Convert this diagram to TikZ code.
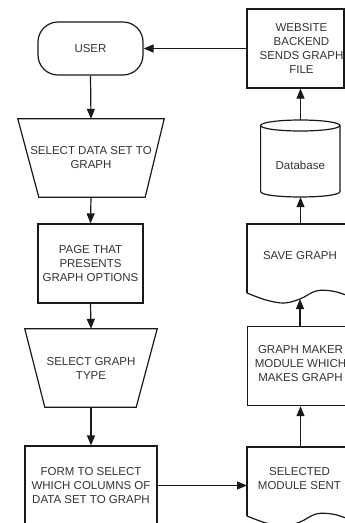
\documentclass[tikz,border=0pt]{standalone}
\usepackage{fontspec}
\setmainfont{Liberation Sans}
\usetikzlibrary{arrows.meta}
\begin{document}
\begin{tikzpicture}[x=1pt,y=-1pt,
  line/.style={draw=black!90, line width=1.2pt},
  flow/.style={line, -{Triangle[length=10pt,width=8pt]}},
  lbl/.style={align=center, font=\fontsize{11.5}{14}\selectfont, text=black!80, inner sep=0pt},
  box/.style={line, rectangle, lbl},
  ghost/.style={rectangle, lbl},
  docpic/.pic={
    \draw[line] (0,69) -- (0,0) -- (109,0) -- (109,75);
    \draw[line] plot[smooth,tension=0.6] coordinates
      {(0,69) (19,76) (37,79) (53,75) (69,67) (85,67) (99,71) (109,75)};
  }]
\useasboundingbox (0,0) rectangle (345,523);
\begin{scope}
\clip (0,0) rectangle (345,523);

% left column
\node[box, rounded corners=20pt, minimum width=105pt, minimum height=53pt] (user) at (90.5,48.5) {USER};

\node[ghost, minimum width=146pt, minimum height=78pt] (seldata) at (91,158) {SELECT DATA SET TO\\GRAPH};
\draw[line] (seldata.north west) -- (seldata.north east)
  -- ([xshift=-19pt]seldata.south east) -- ([xshift=21pt]seldata.south west) -- cycle;

\node[box, minimum width=105pt, minimum height=79pt] (page) at (90.5,263.5) {PAGE THAT\\PRESENTS\\GRAPH OPTIONS};

\node[ghost, minimum width=132pt, minimum height=78pt] (seltype) at (91,368) {SELECT GRAPH\\TYPE};
\draw[line] (seltype.north west) -- (seltype.north east)
  -- ([xshift=-21pt]seltype.south east) -- ([xshift=20pt]seltype.south west) -- cycle;

\node[box, minimum width=132pt, minimum height=79pt] (form) at (91,485.5) {FORM TO SELECT\\WHICH COLUMNS OF\\DATA SET TO GRAPH};

% right column
\node[box, minimum width=97pt, minimum height=79pt] (web) at (295.5,48.5) {};
\node[lbl] (webtxt) at (301.5,48) {WEBSITE\\BACKEND\\SENDS GRAPH\\FILE};

% database cylinder
\node[ghost, minimum width=79.4pt, minimum height=77pt] (db) at (300.3,158.5) {};
\draw[line] (260.6,125.5) -- (260.6,191.5)
  .. controls (260.6,198.8) and (340,198.8) .. (340,191.5) -- (340,125.5);
\draw[line] (300.3,125.5) ellipse [x radius=39.7, y radius=5.5];
\node[lbl] (dbtxt) at (300.3,165) {Database};

% save graph document
\node[ghost, minimum width=109pt, minimum height=75pt, anchor=north west] (save) at (247,224) {};
\pic at (247,224) {docpic};
\node[lbl] (savetxt) at (300,256) {SAVE GRAPH};
\coordinate (savewave) at (300,299);

\node[box, minimum width=108pt, minimum height=79pt, anchor=north west] (maker) at (247,326) {};
\node[lbl] (makertxt) at (300.5,364) {GRAPH MAKER\\MODULE WHICH\\MAKES GRAPH};

% selected module document
\node[ghost, minimum width=109pt, minimum height=75pt, anchor=north west] (sent) at (247,447) {};
\pic at (247,447) {docpic};
\node[lbl] (senttxt) at (299.5,479) {SELECTED\\MODULE SENT};

% connectors
\draw[flow] (web.west) -- (user.east);
\draw[flow] (user.south) -- (seldata.north);
\draw[flow] (seldata.south) -- (page.north);
\draw[flow] (page.south) -- (seltype.north);
\draw[flow] (seltype.south) -- (form.north);
\draw[flow] (form.east) -- (form.east -| sent.west);
\draw[flow] (sent.north -| 300.5,0) -- (maker.south -| 300.5,0);
\draw[flow] (maker.north -| savewave) -- (savewave);
\draw[flow] (save.north -| 300.5,0) -- (db.south -| 300.5,0);
\draw[flow] (db.north -| 300.5,0) -- (web.south -| 300.5,0);
\end{scope}
\end{tikzpicture}
\end{document}
